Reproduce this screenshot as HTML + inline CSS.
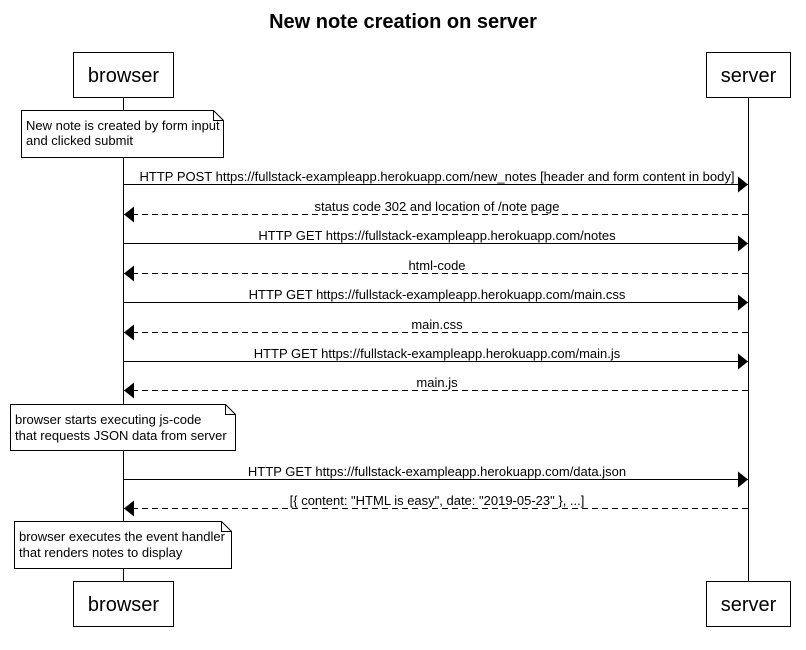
<!DOCTYPE html>
<html><head><meta charset="utf-8"><style>
html,body{margin:0;padding:0;background:#fff}
svg{display:block}
text{font-family:"Liberation Sans",Arial,sans-serif;fill:#000}
</style></head><body>
<svg width="806" height="650" viewBox="0 0 806 650" xmlns="http://www.w3.org/2000/svg">
<defs>
<marker id="ah" markerWidth="10" markerHeight="16" refX="10" refY="8" orient="auto" markerUnits="userSpaceOnUse">
<path d="M0,0 L10,8 L0,16 Z" fill="#000"/>
</marker>
</defs>
<text x="403" y="28" font-size="20" font-weight="bold" text-anchor="middle">New note creation on server</text>
<line x1="123.5" y1="97" x2="123.5" y2="581" stroke="#000"/>
<line x1="748.5" y1="97" x2="748.5" y2="581" stroke="#000"/>
<g fill="#fff" stroke="#000">
<rect x="73.5" y="52.5" width="100" height="45"/>
<rect x="706.5" y="52.5" width="84" height="45"/>
<rect x="73.5" y="581.5" width="100" height="45"/>
<rect x="706.5" y="581.5" width="84" height="45"/>
</g>
<g font-size="20" text-anchor="middle">
<text x="123.5" y="82">browser</text>
<text x="748.5" y="82">server</text>
<text x="123.5" y="611">browser</text>
<text x="748.5" y="611">server</text>
</g>
<g fill="#fff" stroke="#000">
<path d="M21.5,110.5 H213.5 L223.5,120.5 V157.5 H21.5 Z"/>
<path d="M213.5,110.5 V120.5 H223.5" fill="none"/>
<path d="M10.5,404.5 H225.5 L235.5,414.5 V450.5 H10.5 Z"/>
<path d="M225.5,404.5 V414.5 H235.5" fill="none"/>
<path d="M14.5,521.5 H221.5 L231.5,531.5 V568.5 H14.5 Z"/>
<path d="M221.5,521.5 V531.5 H231.5" fill="none"/>
</g>
<g font-size="13">
<text x="26" y="130">New note is created by form input</text>
<text x="26" y="145">and clicked submit</text>
<text x="15" y="424">browser starts executing js-code</text>
<text x="15" y="440">that requests JSON data from server</text>
<text x="19" y="541">browser executes the event handler</text>
<text x="19" y="557">that renders notes to display</text>
</g>
<g stroke="#000" fill="none">
<line x1="124" y1="184.5" x2="748" y2="184.5" marker-end="url(#ah)"/>
<line x1="748" y1="214.5" x2="124" y2="214.5" stroke-dasharray="6,4" marker-end="url(#ah)"/>
<line x1="124" y1="243.5" x2="748" y2="243.5" marker-end="url(#ah)"/>
<line x1="748" y1="273.5" x2="124" y2="273.5" stroke-dasharray="6,4" marker-end="url(#ah)"/>
<line x1="124" y1="302.5" x2="748" y2="302.5" marker-end="url(#ah)"/>
<line x1="748" y1="332.5" x2="124" y2="332.5" stroke-dasharray="6,4" marker-end="url(#ah)"/>
<line x1="124" y1="361.5" x2="748" y2="361.5" marker-end="url(#ah)"/>
<line x1="748" y1="390.5" x2="124" y2="390.5" stroke-dasharray="6,4" marker-end="url(#ah)"/>
<line x1="124" y1="479.5" x2="748" y2="479.5" marker-end="url(#ah)"/>
<line x1="748" y1="508.5" x2="124" y2="508.5" stroke-dasharray="6,4" marker-end="url(#ah)"/>
</g>
<g font-size="13" text-anchor="middle">
<text x="437" y="181">HTTP POST https://fullstack-exampleapp.herokuapp.com/new_notes [header and form content in body]</text>
<text x="437" y="211">status code 302 and location of /note page</text>
<text x="437" y="240">HTTP GET https://fullstack-exampleapp.herokuapp.com/notes</text>
<text x="437" y="270">html-code</text>
<text x="437" y="299">HTTP GET https://fullstack-exampleapp.herokuapp.com/main.css</text>
<text x="437" y="329">main.css</text>
<text x="437" y="358">HTTP GET https://fullstack-exampleapp.herokuapp.com/main.js</text>
<text x="437" y="387">main.js</text>
<text x="437" y="476">HTTP GET https://fullstack-exampleapp.herokuapp.com/data.json</text>
<text x="437" y="505">[{ content: "HTML is easy", date: "2019-05-23" }, ...]</text>
</g>
</svg>
</body></html>
